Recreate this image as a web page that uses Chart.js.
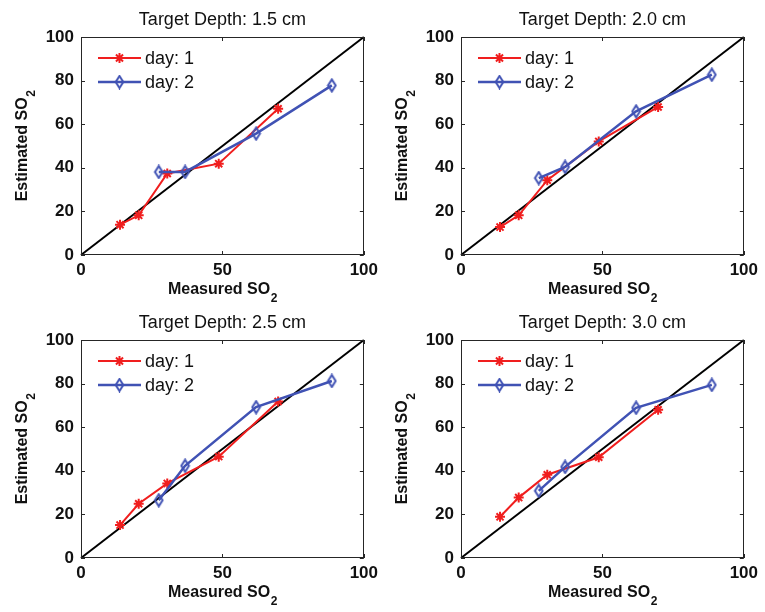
<!DOCTYPE html>
<html>
<head>
<meta charset="utf-8">
<script src="https://cdn.jsdelivr.net/npm/chart.js@4.4.1/dist/chart.umd.min.js"></script>
<style>
  html, body { margin: 0; padding: 0; background: #fff; }
  #wrap { position: relative; width: 765px; height: 612px; overflow: hidden; background: #fff; }
  #wrap canvas { position: absolute; }
</style>
</head>
<body>
<div id="wrap">
  <canvas id="p1" width="383" height="306" style="left:0px;top:0px"></canvas>
  <canvas id="p2" width="383" height="306" style="left:380px;top:0px"></canvas>
  <canvas id="p3" width="383" height="306" style="left:0px;top:303px"></canvas>
  <canvas id="p4" width="383" height="306" style="left:380px;top:303px"></canvas>
</div>
<script>
// Measured SO2 values for each measurement day
const measuredDay1 = [13.8, 20.4, 30.5, 48.7, 69.7];
const measuredDay2 = [27.5, 36.8, 61.9, 88.7];

// Estimated SO2 per target depth
const estDay1_15 = [13.9, 18.2, 37.4, 41.9, 67.1];
const estDay2_15 = [38.1, 38.1, 55.7, 77.8];
const estDay1_20 = [12.8, 18.2, 34.3, 52.1, 67.9];
const estDay2_20 = [35.3, 40.4, 65.9, 82.7];
const estDay1_25 = [15.1, 24.9, 34.2, 46.5, 71.8];
const estDay2_25 = [26.5, 42.3, 69.2, 81.2];
const estDay1_30 = [18.9, 27.7, 38.2, 46.2, 68.0];
const estDay2_30 = [30.8, 41.8, 68.9, 79.4];

const panelTitles = ['Target Depth: 1.5 cm', 'Target Depth: 2.0 cm', 'Target Depth: 2.5 cm', 'Target Depth: 3.0 cm'];
const seriesLabels = ['day: 1', 'day: 2'];
const identityLine = [0, 100];
const xTickValues = [0, 50, 100];
const yTickValues = [0, 20, 40, 60, 80, 100];
const axisMin = 0, axisMax = 100;

const RED = '#f01e1e';
const BLUE = '#4052b4';
const FONT = '"Liberation Sans", Arial, Helvetica, sans-serif';

// hollow narrow diamond marker
function diamondMarker(color) {
  const c = document.createElement('canvas');
  c.width = 11; c.height = 15;
  const g = c.getContext('2d');
  g.strokeStyle = color;
  g.lineWidth = 2;
  g.beginPath();
  g.moveTo(5.5, 1.5);
  g.lineTo(9.3, 7.5);
  g.lineTo(5.5, 13.5);
  g.lineTo(1.7, 7.5);
  g.closePath();
  g.stroke();
  return c;
}
const blueDiamond = diamondMarker(BLUE);

function toPoints(xs, ys) {
  return xs.map((x, i) => ({ x: x, y: ys[i] }));
}

// text with a subscript suffix, centred on (cx, baseline)
function drawSubText(ctx, main, sub, cx, by, mainFont, subFont, subDrop) {
  ctx.font = mainFont;
  const w1 = ctx.measureText(main).width;
  ctx.font = subFont;
  const w2 = ctx.measureText(sub).width;
  const x0 = cx - (w1 + w2) / 2;
  ctx.textAlign = 'left';
  ctx.textBaseline = 'alphabetic';
  ctx.font = mainFont;
  ctx.fillText(main, x0, by);
  ctx.font = subFont;
  ctx.fillText(sub, x0 + w1 + 0.5, by + subDrop);
}

const decorPlugin = {
  id: 'decor',
  afterDraw(chart, args, opts) {
    const ctx = chart.ctx;
    const a = chart.chartArea;
    const xs = chart.scales.x, ys = chart.scales.y;
    ctx.save();

    // frame box
    ctx.strokeStyle = '#262626';
    ctx.lineWidth = 1;
    ctx.strokeRect(Math.round(a.left) + 0.5, Math.round(a.top) + 0.5,
                   Math.round(a.right - a.left) - 1, Math.round(a.bottom - a.top) - 1);

    // inward tick marks on all four sides
    const tl = 4;
    ctx.beginPath();
    xTickValues.forEach(v => {
      const px = Math.round(xs.getPixelForValue(v)) + 0.5;
      ctx.moveTo(px, a.bottom); ctx.lineTo(px, a.bottom - tl);
      ctx.moveTo(px, a.top); ctx.lineTo(px, a.top + tl);
    });
    yTickValues.forEach(v => {
      const py = Math.round(ys.getPixelForValue(v)) + 0.5;
      ctx.moveTo(a.left, py); ctx.lineTo(a.left + tl, py);
      ctx.moveTo(a.right, py); ctx.lineTo(a.right - tl, py);
    });
    ctx.stroke();

    // panel title
    ctx.fillStyle = '#111';
    ctx.font = '18px ' + FONT;
    ctx.textAlign = 'center';
    ctx.textBaseline = 'alphabetic';
    ctx.fillText(opts.title, (a.left + a.right) / 2, a.top - 12);

    // axis titles
    const mainFont = 'bold 16px ' + FONT;
    const subFont = 'bold 12px ' + FONT;
    drawSubText(ctx, 'Measured SO', '2', (a.left + a.right) / 2, a.bottom + 39, mainFont, subFont, 8);
    ctx.save();
    ctx.translate(a.left - 54, (a.top + a.bottom) / 2);
    ctx.rotate(-Math.PI / 2);
    drawSubText(ctx, 'Estimated SO', '2', 0, 0, mainFont, subFont, 8);
    ctx.restore();

    // legend inside the plot, no box
    const lx0 = a.left + 17, lx1 = a.left + 60, tx = a.left + 64;
    const rows = [a.top + 21, a.top + 45];
    [0, 1].forEach(i => {
      const ds = chart.data.datasets[i];
      const y = rows[i];
      ctx.strokeStyle = ds.borderColor;
      ctx.lineWidth = ds.borderWidth;
      ctx.beginPath();
      ctx.moveTo(lx0, y); ctx.lineTo(lx1, y);
      ctx.stroke();
      const mx = (lx0 + lx1) / 2;
      if (i === 0) {
        ctx.lineWidth = 2;
        Chart.helpers.drawPoint(ctx, { pointStyle: 'star', radius: 5, borderWidth: 2, rotation: 0 }, mx, y);
      } else {
        ctx.drawImage(blueDiamond, mx - blueDiamond.width / 2, y - blueDiamond.height / 2);
      }
      ctx.fillStyle = '#111';
      ctx.font = '18px ' + FONT;
      ctx.textAlign = 'left';
      ctx.textBaseline = 'middle';
      ctx.fillText(ds.label, tx, y + 1);
    });

    ctx.restore();
  }
};

function makePanel(id, title, day1, day2) {
  const canvas = document.getElementById(id);
  const W = canvas.width;
  return new Chart(canvas, {
    type: 'scatter',
    data: {
      datasets: [
        {
          label: seriesLabels[0],
          data: toPoints(measuredDay1, day1),
          showLine: true,
          borderColor: RED,
          backgroundColor: RED,
          borderWidth: 2,
          pointStyle: 'star',
          pointRadius: 5,
          pointBorderWidth: 2,
          pointBorderColor: RED,
          order: 2
        },
        {
          label: seriesLabels[1],
          data: toPoints(measuredDay2, day2),
          showLine: true,
          borderColor: BLUE,
          backgroundColor: BLUE,
          borderWidth: 2.5,
          pointStyle: blueDiamond,
          pointRadius: 6,
          order: 1
        },
        {
          label: 'y = x',
          data: toPoints(identityLine, identityLine),
          showLine: true,
          borderColor: '#000',
          borderWidth: 2,
          pointRadius: 0,
          order: 3
        }
      ]
    },
    options: {
      responsive: false,
      animation: false,
      devicePixelRatio: 1,
      clip: false,
      layout: { padding: { top: 37, right: W - 81 - 286, bottom: 0, left: 0 } },
      plugins: {
        legend: { display: false },
        tooltip: { enabled: false },
        decor: { title: title }
      },
      scales: {
        x: {
          type: 'linear',
          min: axisMin, max: axisMax,
          grid: { display: false, drawTicks: false },
          border: { display: false },
          afterBuildTicks: s => { s.ticks = xTickValues.map(v => ({ value: v })); },
          afterFit: s => { s.height = 51; },
          ticks: {
            padding: 5,
            maxRotation: 0,
            color: '#111',
            font: { family: FONT, size: 17, weight: 'bold' }
          }
        },
        y: {
          type: 'linear',
          min: axisMin, max: axisMax,
          grid: { display: false, drawTicks: false },
          border: { display: false },
          afterBuildTicks: s => { s.ticks = yTickValues.map(v => ({ value: v })); },
          afterFit: s => { s.width = 81; },
          ticks: {
            padding: 7,
            color: '#111',
            font: { family: FONT, size: 17, weight: 'bold' }
          }
        }
      }
    },
    plugins: [decorPlugin]
  });
}

makePanel('p1', panelTitles[0], estDay1_15, estDay2_15);
makePanel('p2', panelTitles[1], estDay1_20, estDay2_20);
makePanel('p3', panelTitles[2], estDay1_25, estDay2_25);
makePanel('p4', panelTitles[3], estDay1_30, estDay2_30);
</script>
</body>
</html>
